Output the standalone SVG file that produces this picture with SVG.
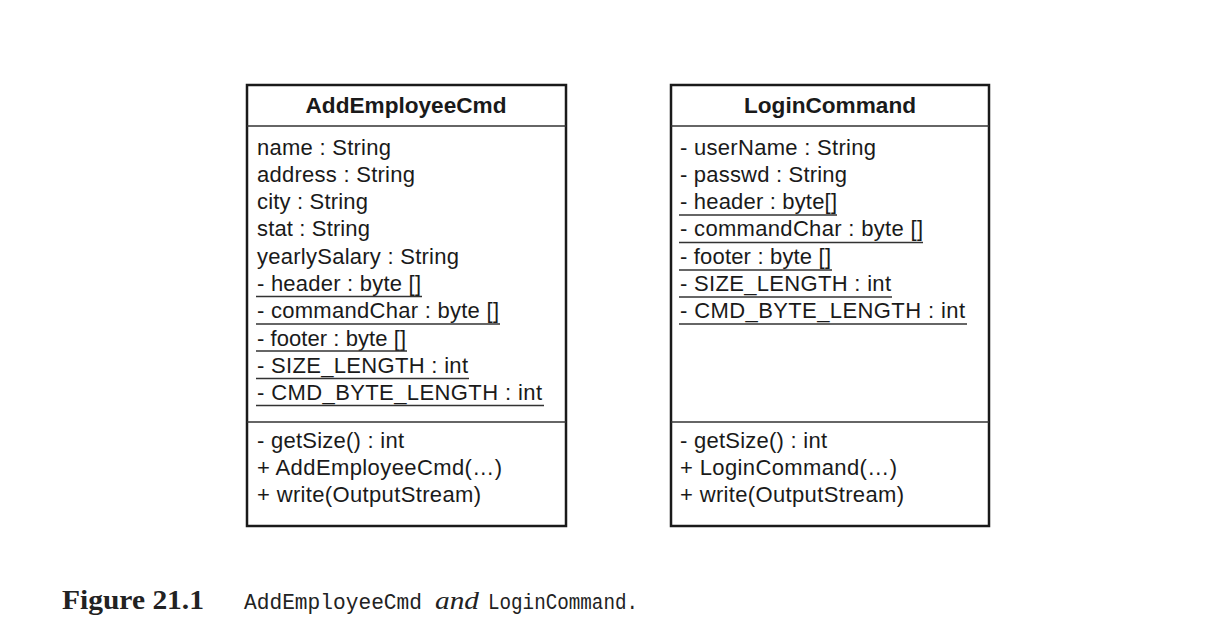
<svg xmlns="http://www.w3.org/2000/svg" width="1224" height="640" viewBox="0 0 1224 640">
<style>
.box{fill:#fff;stroke:#1a1a1a;stroke-width:2.5}
.sep{stroke:#333;stroke-width:1.5}
.ul{stroke:#333;stroke-width:1.3}
.t{font-family:"Liberation Sans",Arial,sans-serif;font-size:22px;fill:#1a1a1a}
.h{font-family:"Liberation Sans",Arial,sans-serif;font-size:22px;font-weight:bold;fill:#1a1a1a}
.cap{font-family:"Liberation Serif","Times New Roman",serif;font-size:27px;font-weight:bold;fill:#222}
.mono{font-family:"Liberation Mono","Courier New",monospace;font-size:21.5px;fill:#222}
.it{font-family:"Liberation Serif","Times New Roman",serif;font-size:26px;font-style:italic;fill:#222}
</style>
<rect width="1224" height="640" fill="#fff"/>
<g id="AddEmployeeCmd">
<rect class="box" x="247" y="85" width="319" height="441"/>
<line class="sep" x1="247" y1="126" x2="566" y2="126"/>
<line class="sep" x1="247" y1="422" x2="566" y2="422"/>
<text class="h" x="406" y="113" text-anchor="middle" textLength="201" lengthAdjust="spacingAndGlyphs">AddEmployeeCmd</text>
<text class="t" x="257" y="154.5" textLength="134">name : String</text>
<text class="t" x="257" y="181.8" textLength="158">address : String</text>
<text class="t" x="257" y="209.1" textLength="111">city : String</text>
<text class="t" x="257" y="236.4" textLength="113">stat : String</text>
<text class="t" x="257" y="263.7" textLength="202">yearlySalary : String</text>
<text class="t" x="257" y="291" textLength="164">- header : byte []</text>
<text class="t" x="257" y="318.3" textLength="242">- commandChar : byte []</text>
<text class="t" x="257" y="345.6" textLength="149">- footer : byte []</text>
<text class="t" x="257" y="372.9" textLength="211">- SIZE_LENGTH : int</text>
<text class="t" x="257" y="400.2" textLength="285">- CMD_BYTE_LENGTH : int</text>
<line class="ul" x1="256" y1="296.5" x2="422" y2="296.5"/>
<line class="ul" x1="256" y1="324" x2="500" y2="324"/>
<line class="ul" x1="256" y1="351" x2="407" y2="351"/>
<line class="ul" x1="256" y1="378.5" x2="469" y2="378.5"/>
<line class="ul" x1="256" y1="405.5" x2="544" y2="405.5"/>
<text class="t" x="257" y="448" textLength="147">- getSize() : int</text>
<text class="t" x="257" y="475" textLength="245">+ AddEmployeeCmd(…)</text>
<text class="t" x="257" y="502" textLength="224">+ write(OutputStream)</text>
</g>
<g id="LoginCommand">
<rect class="box" x="671" y="85" width="318" height="441"/>
<line class="sep" x1="671" y1="126" x2="989" y2="126"/>
<line class="sep" x1="671" y1="422" x2="989" y2="422"/>
<text class="h" x="830" y="113" text-anchor="middle" textLength="172" lengthAdjust="spacingAndGlyphs">LoginCommand</text>
<text class="t" x="680" y="154.5" textLength="196">- userName : String</text>
<text class="t" x="680" y="181.8" textLength="167">- passwd : String</text>
<text class="t" x="680" y="209.1" textLength="157">- header : byte[]</text>
<text class="t" x="680" y="236.4" textLength="243">- commandChar : byte []</text>
<text class="t" x="680" y="263.7" textLength="151">- footer : byte []</text>
<text class="t" x="680" y="291" textLength="211">- SIZE_LENGTH : int</text>
<text class="t" x="680" y="318.3" textLength="285">- CMD_BYTE_LENGTH : int</text>
<line class="ul" x1="679" y1="215" x2="837" y2="215"/>
<line class="ul" x1="679" y1="242.5" x2="923" y2="242.5"/>
<line class="ul" x1="679" y1="270" x2="832" y2="270"/>
<line class="ul" x1="679" y1="297" x2="892" y2="297"/>
<line class="ul" x1="679" y1="324" x2="967" y2="324"/>
<text class="t" x="680" y="448" textLength="147">- getSize() : int</text>
<text class="t" x="680" y="475" textLength="217">+ LoginCommand(…)</text>
<text class="t" x="680" y="502" textLength="224">+ write(OutputStream)</text>
</g>
<g id="caption">
<text class="cap" x="62" y="609" textLength="142" lengthAdjust="spacingAndGlyphs">Figure 21.1</text>
<text class="mono" x="244" y="609" textLength="178" lengthAdjust="spacingAndGlyphs">AddEmployeeCmd</text>
<text class="it" x="435" y="609" textLength="44" lengthAdjust="spacingAndGlyphs">and</text>
<text class="mono" x="488" y="609" textLength="150" lengthAdjust="spacingAndGlyphs">LoginCommand.</text>
</g>
</svg>
